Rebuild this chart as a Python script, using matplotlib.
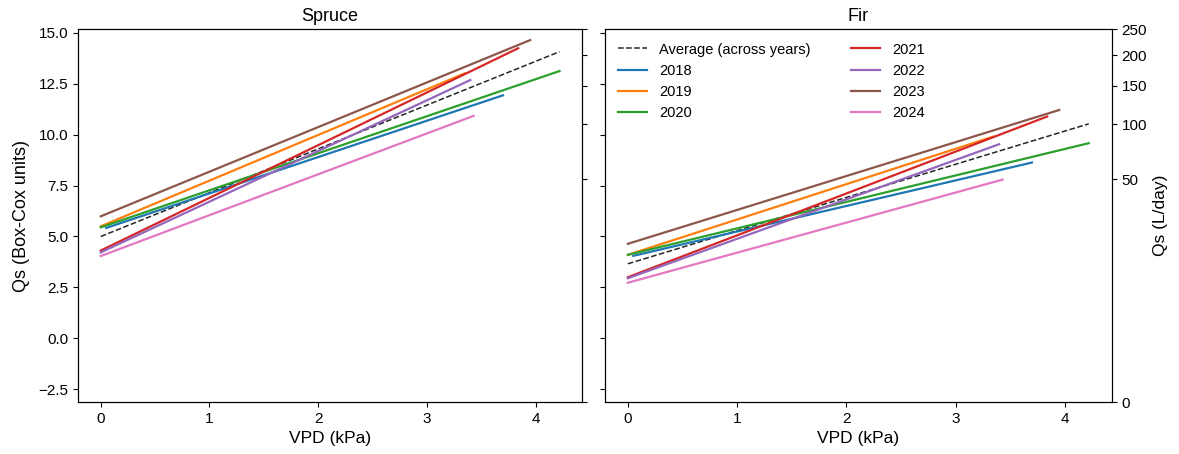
import numpy as np
import matplotlib
matplotlib.use("Agg")
import matplotlib.pyplot as plt

plt.rcParams['font.family'] = ['Liberation Sans', 'DejaVu Sans']

# Box-Cox lambda used for the right-hand axis (L/day)
lam = 0.32

years = ['2018', '2019', '2020', '2021', '2022', '2023', '2024']
colors = ['tab:blue', 'tab:orange', 'tab:green', 'tab:red', 'tab:purple', 'tab:brown', 'tab:pink']

# VPD range of each yearly fit (kPa)
vpd_min = [0.05, 0.0, 0.0, 0.0, 0.0, 0.0, 0.0]
vpd_max = [3.70, 3.35, 4.22, 3.84, 3.40, 3.95, 3.43]

# fitted Qs (Box-Cox units) at the ends of each line
spruce_start = [5.42, 5.50, 5.45, 4.31, 4.22, 5.99, 4.04]
spruce_end = [11.93, 13.01, 13.12, 14.24, 12.68, 14.64, 10.92]
fir_start = [4.05, 4.10, 4.10, 3.00, 2.95, 4.64, 2.73]
fir_end = [8.63, 9.91, 9.58, 10.89, 9.53, 11.21, 7.79]

avg_vpd = [0.0, 4.22]
spruce_avg = [5.00, 14.07]
fir_avg = [3.66, 10.53]

ls_ticks = [0, 50, 100, 150, 200, 250]
y_ticks = [-2.5, 0.0, 2.5, 5.0, 7.5, 10.0, 12.5, 15.0]


def boxcox(v):
    return (np.power(np.asarray(v, dtype=float), lam) - 1) / lam


fig = plt.figure(figsize=(11.79, 4.54), dpi=100)
ax1 = fig.add_axes([0.066, 0.1145, 0.428, 0.8207])
ax2 = fig.add_axes([0.513, 0.1145, 0.430, 0.8207], sharey=ax1)

ylo, yhi = boxcox(0), boxcox(250)

panels = [(ax1, 'Spruce', spruce_start, spruce_end, spruce_avg),
          (ax2, 'Fir', fir_start, fir_end, fir_avg)]

for ax, name, starts, ends, avg in panels:
    ax.plot(avg_vpd, avg, ls='--', color='black', lw=1.1, alpha=0.85,
            label='Average (across years)')
    for i in range(len(years)):
        ax.plot([vpd_min[i], vpd_max[i]], [starts[i], ends[i]],
                color=colors[i], lw=1.6, label=years[i])
    ax.set_title(name, fontsize=13)
    ax.set_xlabel('VPD (kPa)', fontsize=12.5)
    ax.set_xticks([0, 1, 2, 3, 4])
    ax.tick_params(labelsize=11)
    ax.set_ylim(ylo, yhi)
    ax.set_yticks(y_ticks)

    tw = ax.twinx()
    tw.set_ylim(ylo, yhi)
    tw.set_yticks(boxcox(ls_ticks))
    tw.set_yticklabels([str(t) for t in ls_ticks])
    tw.tick_params(labelsize=11)
    if ax is ax1:
        tw.tick_params(labelright=False)
    else:
        tw.set_ylabel('Qs (L/day)', fontsize=12.5)

ax1.set_ylabel('Qs (Box-Cox units)', fontsize=13, labelpad=6)
ax2.tick_params(labelleft=False)

ax2.legend(loc='upper left', ncol=2, frameon=False, fontsize=10.5,
           columnspacing=2.8)

fig.savefig('out.png', dpi=100)
